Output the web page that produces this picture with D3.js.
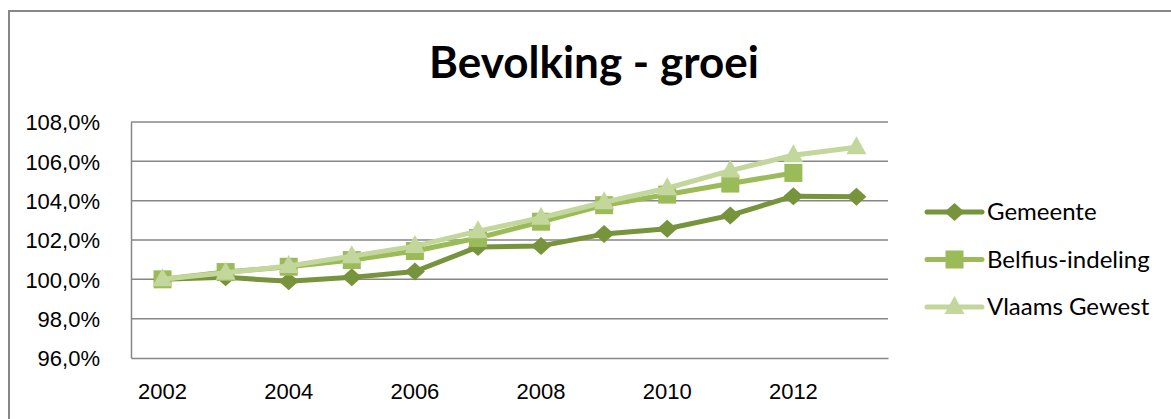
<!DOCTYPE html>
<meta charset="utf-8">
<style>
body { margin: 0; background: #fff; font-family: Lato, "Open Sans", sans-serif; }
.grid line { stroke: #868686; stroke-width: 1.5; }
.axis path, .axis line { stroke: #868686; stroke-width: 1.5; }
.axis text { fill: #000; font-size: 22px; }
</style>
<body>
<svg width="1171" height="419"></svg>
<script src="https://d3js.org/d3.v7.min.js"></script>
<script>
// data
var years = [2002, 2003, 2004, 2005, 2006, 2007, 2008, 2009, 2010, 2011, 2012, 2013];
var gemeente = [1.000, 1.001, 0.999, 1.001, 1.004, 1.0165, 1.017, 1.023, 1.0257, 1.0325, 1.0423, 1.042];
var belfius = [1.000, 1.0037, 1.0064, 1.0098, 1.0144, 1.021, 1.0293, 1.0377, 1.0431, 1.0487, 1.0541, null];
var vlaams = [1.000, 1.0034, 1.0068, 1.0118, 1.0169, 1.0245, 1.0313, 1.0392, 1.0463, 1.0553, 1.0631, 1.0672];
var yTicks = [0.96, 0.98, 1.00, 1.02, 1.04, 1.06, 1.08];
var xTickYears = [2002, 2004, 2006, 2008, 2010, 2012];
var seriesNames = ["Gemeente", "Belfius-indeling", "Vlaams Gewest"];
var seriesValues = [gemeente, belfius, vlaams];
var seriesColors = ["#77933C", "#9BBB59", "#C3D69B"];
var seriesMarkers = ["diamond", "square", "triangle"];

var nl = d3.formatLocale({decimal: ",", thousands: ".", grouping: [3], currency: ["€", ""]});
var pct = nl.format(".1%");

var svg = d3.select("svg");
var margin = {left: 131, right: 283, top: 122, bottom: 61};
var width = 1171 - margin.left - margin.right,
    height = 419 - margin.top - margin.bottom;

// outer chart border (only top/left visible in the crop)
svg.append("rect")
    .attr("x", 9).attr("y", 11)
    .attr("width", 1300).attr("height", 500)
    .attr("fill", "none")
    .attr("stroke", "#868686")
    .attr("stroke-width", 2);

svg.append("text")
    .attr("x", 594).attr("y", 78)
    .attr("text-anchor", "middle")
    .style("font-size", "44px")
    .style("font-weight", "bold")
    .text("Bevolking - groei");

var g = svg.append("g")
    .attr("transform", "translate(" + margin.left + "," + margin.top + ")");

var x = d3.scaleBand().domain(years).range([0, width]);
var y = d3.scaleLinear().domain([0.96, 1.08]).range([height, 0]);

g.append("g").attr("class", "grid")
  .selectAll("line")
  .data(yTicks.slice(1))
  .enter().append("line")
    .attr("x1", 0).attr("x2", width)
    .attr("y1", function (d) { return y(d); })
    .attr("y2", function (d) { return y(d); });

g.append("g")
    .attr("class", "axis")
    .call(d3.axisLeft(y).tickValues(yTicks).tickFormat(pct).tickSize(0).tickPadding(31))
    .selectAll("text").attr("dy", "0.35em");

g.append("g")
    .attr("class", "axis")
    .attr("transform", "translate(0," + height + ")")
    .call(d3.axisBottom(x).tickValues(xTickYears).tickSize(0).tickPadding(25));

function marker(type) {
    if (type == "diamond") return "M-10,0L0,-9L10,0L0,9Z";
    if (type == "square") return "M-9,-9H9V9H-9Z";
    return "M0,-11L10,7H-10Z";
}

var line = d3.line()
    .defined(function (d) { return d != null; })
    .x(function (d, i) { return x(years[i]) + x.bandwidth() / 2; })
    .y(function (d) { return y(d); });

seriesValues.forEach(function (vals, s) {
    var sg = g.append("g");
    sg.append("path")
        .attr("d", line(vals))
        .attr("fill", "none")
        .attr("stroke", seriesColors[s])
        .attr("stroke-width", 5)
        .attr("stroke-linejoin", "round");
    sg.selectAll("path.m")
        .data(vals.map(function (v, i) { return {v: v, yr: years[i]}; }).filter(function (d) { return d.v != null; }))
        .enter().append("path")
        .attr("class", "m")
        .attr("d", marker(seriesMarkers[s]))
        .attr("fill", seriesColors[s])
        .attr("transform", function (d) {
            return "translate(" + (x(d.yr) + x.bandwidth() / 2) + "," + y(d.v) + ")";
        });
});

// legend
var legend = svg.append("g").attr("transform", "translate(927,212)");
seriesNames.forEach(function (name, s) {
    var lg = legend.append("g").attr("transform", "translate(0," + s * 47.5 + ")");
    lg.append("line")
        .attr("x1", 0).attr("x2", 55)
        .attr("stroke", seriesColors[s])
        .attr("stroke-width", 5)
        .attr("stroke-linecap", "round");
    lg.append("path")
        .attr("d", marker(seriesMarkers[s]))
        .attr("transform", "translate(27.5,0)")
        .attr("fill", seriesColors[s]);
    lg.append("text")
        .attr("x", 60).attr("dy", "0.35em")
        .style("font-size", "24px")
        .text(name);
});
</script>
</body>
